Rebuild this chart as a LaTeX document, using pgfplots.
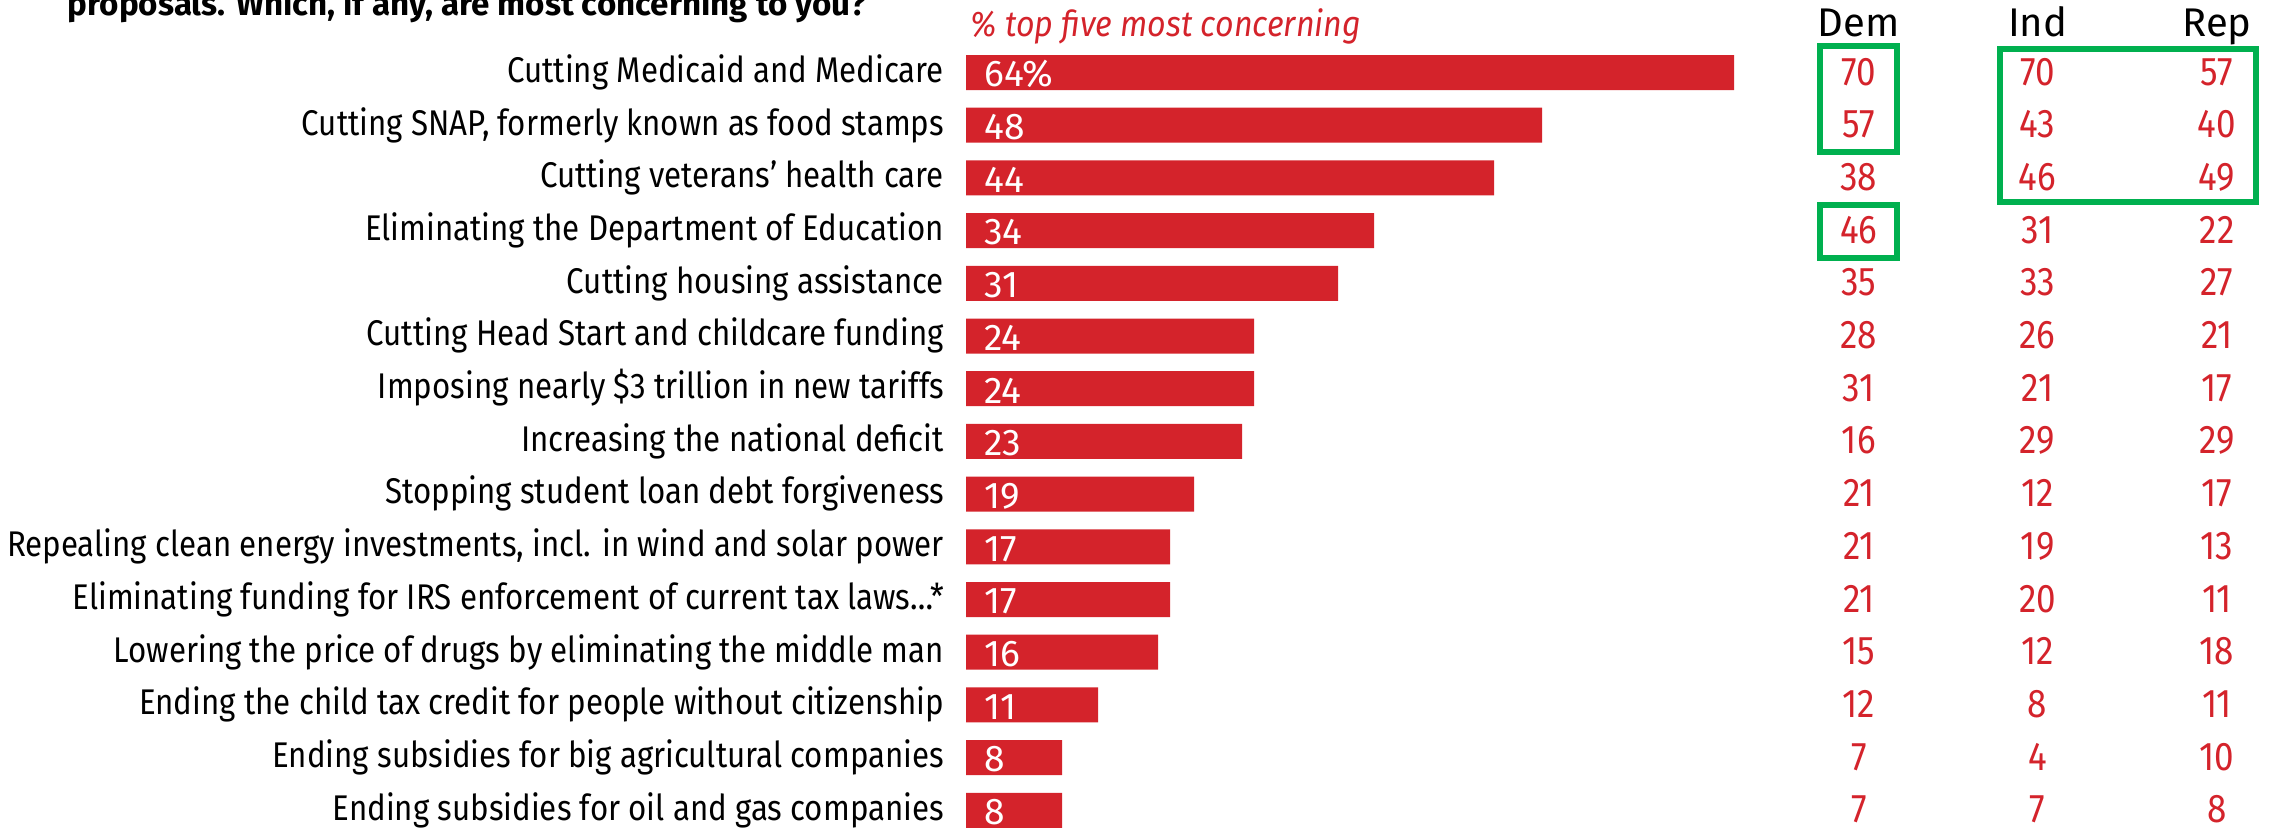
\documentclass[border=0pt]{standalone}
\usepackage{pgfplots}
\pgfplotsset{compat=1.18}
\usepackage{pgfplotstable}
\usepackage{fontspec}
\setmainfont{Fira Sans}[FakeStretch=0.875]
\newfontfamily\plainfont{Fira Sans}
\newfontfamily\itfont{Fira Sans Italic}[FakeStretch=0.9]
\definecolor{barred}{HTML}{D4232B}
\definecolor{boxgreen}{HTML}{00B04F}
\pgfplotstableread{
row val lab dem ind rep
0 64 64\% 70 70 57
1 48 48 57 43 40
2 44 44 38 46 49
3 34 34 46 31 22
4 31 31 35 33 27
5 24 24 28 26 21
6 24 24 31 21 17
7 23 23 16 29 29
8 19 19 21 12 17
9 17 17 21 19 13
10 17 17 21 20 11
11 16 16 15 12 18
12 11 11 12 8 11
13 8 8 7 4 10
14 8 8 7 7 8
}\datatable
\begin{document}
\begin{tikzpicture}
\begin{axis}[
  scale only axis,
  x=4.2pt, y=18.445pt,
  y dir=reverse,
  xmin=0, xmax=108, ymin=-0.5, ymax=14.5,
  clip=false,
  axis line style={draw=none},
  tick style={draw=none},
  major tick length=0pt,
  xtick=\empty,
  ytick={0,...,14},
  yticklabels={
    {Cutting Medicaid and Medicare},
    {Cutting SNAP, formerly known as food stamps},
    {Cutting veterans’ health care},
    {Eliminating the Department of Education},
    {Cutting housing assistance},
    {Cutting Head Start and childcare funding},
    {Imposing nearly \$3 trillion in new tariffs},
    {Increasing the national deficit},
    {Stopping student loan debt forgiveness},
    {Repealing clean energy investments, incl. in wind and solar power},
    {Eliminating funding for IRS enforcement of current tax laws…*},
    {Lowering the price of drugs by eliminating the middle man},
    {Ending the child tax credit for people without citizenship},
    {Ending subsidies for big agricultural companies},
    {Ending subsidies for oil and gas companies}},
  yticklabel style={font=\fontsize{12.5}{14}\selectfont, anchor=base east, inner sep=0pt, xshift=-7.5pt, yshift=-3.45pt},
]
\addplot[xbar, bar width=12.25pt, fill=barred, draw=none] table[x=val, y=row] {\datatable};
\addplot[only marks, mark=none, nodes near coords, point meta=explicit symbolic,
  nodes near coords style={anchor=base west, inner sep=0pt, text=white, font=\plainfont\fontsize{13}{15}\selectfont, yshift=-5pt}]
  table[x expr=1.5, y=row, meta=lab] {\datatable};
\addplot[only marks, mark=none, nodes near coords, point meta=explicit symbolic,
  nodes near coords style={anchor=base, inner sep=0pt, text=barred, font=\fontsize{14}{16}\selectfont, yshift=-4.4pt}]
  table[x expr=74.4, y=row, meta=dem] {\datatable};
\addplot[only marks, mark=none, nodes near coords, point meta=explicit symbolic,
  nodes near coords style={anchor=base, inner sep=0pt, text=barred, font=\fontsize{14}{16}\selectfont, yshift=-4.4pt}]
  table[x expr=89.3, y=row, meta=ind] {\datatable};
\addplot[only marks, mark=none, nodes near coords, point meta=explicit symbolic,
  nodes near coords style={anchor=base, inner sep=0pt, text=barred, font=\fontsize{14}{16}\selectfont, yshift=-4.4pt}]
  table[x expr=104.25, y=row, meta=rep] {\datatable};
\draw[boxgreen, line width=2.1pt] (axis cs:71.2,-0.5) rectangle (axis cs:77.6,1.5);
\draw[boxgreen, line width=2.1pt] (axis cs:71.2,2.51) rectangle (axis cs:77.6,3.52);
\draw[boxgreen, line width=2.1pt] (axis cs:86.2,-0.45) rectangle (axis cs:107.5,2.45);
\node[anchor=base, inner sep=0pt, font=\plainfont\fontsize{14}{16}\selectfont] at (axis cs:74.4,-0.69) {Dem};
\node[anchor=base, inner sep=0pt, font=\plainfont\fontsize{14}{16}\selectfont] at (axis cs:89.3,-0.69) {Ind};
\node[anchor=base, inner sep=0pt, font=\plainfont\fontsize{14}{16}\selectfont] at (axis cs:104.25,-0.69) {Rep};
\node[anchor=base west, inner sep=0pt, text=barred, font=\itfont\fontsize{12.5}{14}\selectfont] at (axis cs:0.33,-0.674) {\% top five most concerning};
\node[anchor=base west, inner sep=0pt, font=\plainfont\fontsize{11.6}{13}\selectfont\bfseries] at (axis cs:-74.9,-1.091) {proposals. Which, if any, are most concerning to you?};
\coordinate (bl) at (axis cs:-80.5,14.393);
\coordinate (tr) at (axis cs:108.58,-1.376);
\end{axis}
\pgfresetboundingbox
\path[use as bounding box] (bl) rectangle (tr);
\end{tikzpicture}
\end{document}
